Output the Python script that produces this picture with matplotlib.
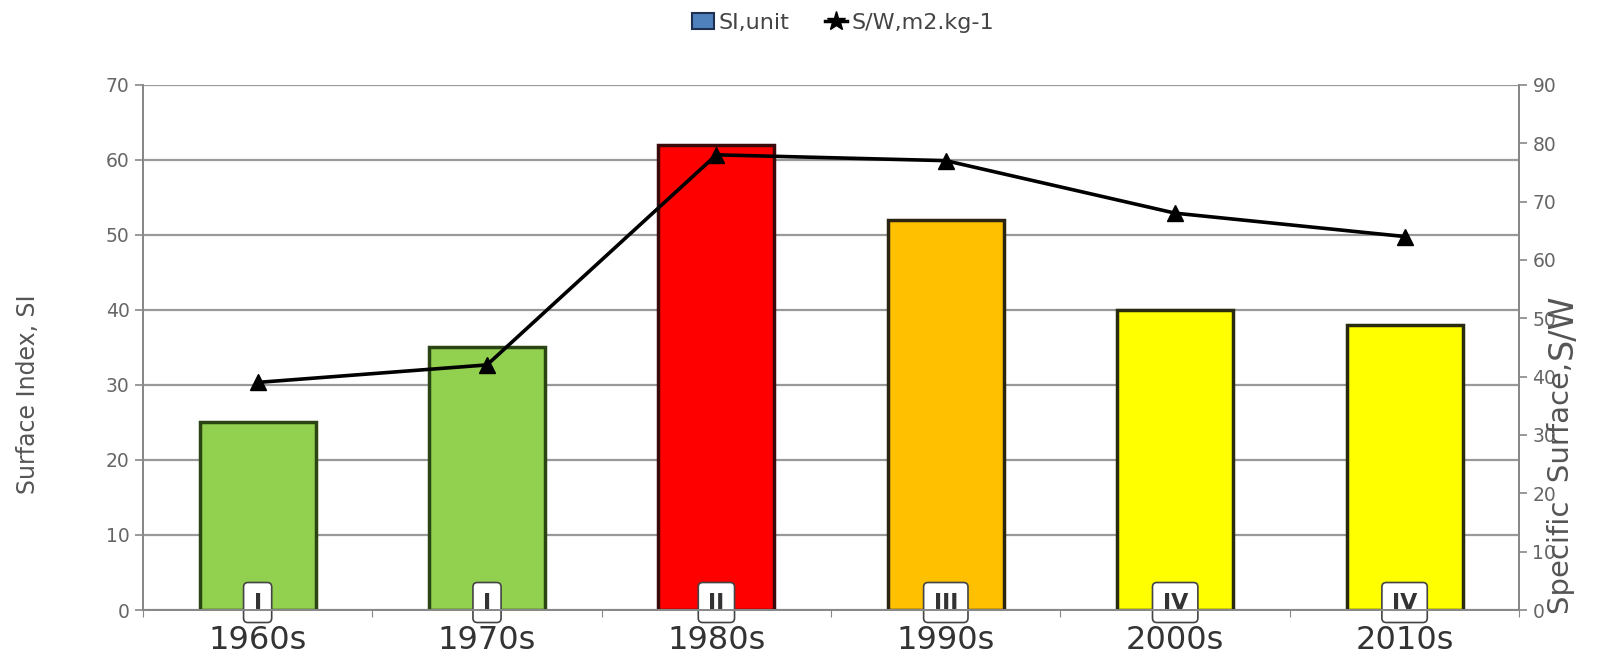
import matplotlib
matplotlib.use("Agg")
import matplotlib.pyplot as plt
from matplotlib.lines import Line2D
from matplotlib.patches import Patch
import numpy as np

# decades, surface index and specific surface
decades = ["1960s", "1970s", "1980s", "1990s", "2000s", "2010s"]
si_values = [25, 35, 62, 52, 40, 38]
sw_values = [39, 42, 78, 77, 68, 64]
classes = ["I", "I", "II", "III", "IV", "IV"]
bar_colors = ["#92D050", "#92D050", "#FF0000", "#FFC000", "#FFFF00", "#FFFF00"]
edge_colors = ["#2B4414", "#2B4414", "#3A0A0A", "#2A2410", "#2A2A10", "#2A2A10"]

fig = plt.figure(figsize=(16.06, 6.64), dpi=100)
ax = fig.add_axes([0.089, 0.0813, 0.857, 0.791])
ax2 = ax.twinx()

x = np.arange(len(decades))

ax.set_axisbelow(True)
ax.bar(x, si_values, width=0.505, color=bar_colors, edgecolor=edge_colors, linewidth=2.5, zorder=2)
ax.set_ylim(0, 70)
ax.set_yticks(range(0, 71, 10))
ax.set_xlim(-0.5, len(decades) - 0.5)
ax.yaxis.grid(True, color="#999999", linewidth=1.6)

# class labels in small white boxes at the foot of each bar
for i, c in enumerate(classes):
    ax.text(i, 1.0, c, ha="center", va="center", fontsize=16, fontweight="bold",
            color="#333333", zorder=5, clip_on=False,
            bbox=dict(boxstyle="round,pad=0.45,rounding_size=0.2", fc="white", ec="#444444", lw=1.2))

ax2.plot(x, sw_values, color="black", linewidth=2.6, marker="^", markersize=11, zorder=4)
ax2.set_ylim(0, 90)
ax2.set_yticks(range(0, 91, 10))

# x ticks sit between categories, labels at category centres
ax.set_xticks(np.arange(-0.5, len(decades), 1.0))
ax.set_xticklabels([])
ax.set_xticks(x, minor=True)
ax.set_xticklabels(decades, minor=True, fontsize=23, color="#333333")
ax.tick_params(axis="x", which="minor", length=0, pad=11)
ax.tick_params(axis="x", which="major", length=5, color="#888888")

ax.tick_params(axis="y", labelsize=13.5, labelcolor="#666666", color="#888888", length=6, width=1.2)
ax2.tick_params(axis="y", labelsize=13.5, labelcolor="#666666", color="#888888", length=6, width=1.2)

for a in (ax, ax2):
    a.spines["top"].set_visible(False)
    for s in ("left", "right", "bottom"):
        a.spines[s].set_color("#888888")
        a.spines[s].set_linewidth(1.4)

ax.set_ylabel("Surface Index, SI", fontsize=17, color="#555555")
ax.yaxis.set_label_coords(-0.075, 0.41)

t1 = fig.text(0.972, 0.076, "Specific  Surface,", rotation=90, ha="center", va="bottom",
              fontsize=21, color="#555555")
ax.annotate("S/W", xy=(0.5, 1.0), xycoords=t1, xytext=(1, 2), textcoords="offset points",
            rotation=90, ha="center", va="bottom", fontsize=24, color="#555555")

handles = [Patch(facecolor="#4F81BD", edgecolor="#1F2F4F", linewidth=1.5),
           Line2D([0], [0], color="black", linewidth=2.5, marker="*", markersize=14)]
fig.legend(handles, ["SI,unit", "S/W,m2.kg-1"], loc="center", bbox_to_anchor=(0.525, 0.966),
           ncol=2, frameon=False, fontsize=16, handlelength=1.0, handletextpad=0.2,
           columnspacing=1.6, labelcolor="#444444")

fig.savefig("out.png", dpi=100, facecolor="white")
